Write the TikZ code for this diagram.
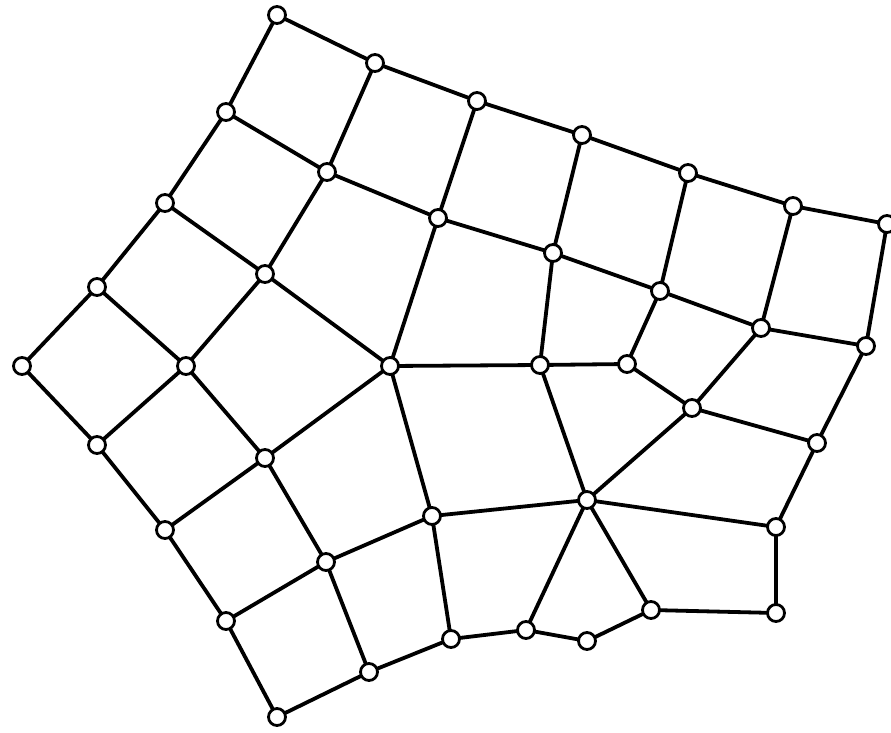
\documentclass[tikz,border=0pt]{standalone}
\begin{document}
\begin{tikzpicture}[x=1pt,y=-1pt,
  vtx/.style={circle,draw=black,fill=white,line width=2.8pt,minimum size=17pt,inner sep=0pt},
  edge/.style={draw=black,line width=3.8pt}]
\useasboundingbox (0,0) rectangle (891,733);
\begin{scope}
\clip (0,0) rectangle (891,733);
\foreach \n/\x/\y in {
 a1/277/15, a2/375/63, a3/477/101, a4/582/135, a5/688/173, a6/793/206, a7/887/224,
 b1/226/112, b2/327/172, b3/438/218, b4/553/253, b5/660/291, b6/761/328, b7/866/346,
 c1/165/203, c2/265/274, c3/390/366, c4/540/365, c5/627/364, c6/692/408, c7/817/443,
 d1/97/287, d2/186/366, d3/22/366, d4/97/445, d5/265/458, d6/165/530, d7/326/562,
 d8/226/621, d9/369/672, d10/277/717, e1/432/516, e2/451/639, e3/526/630, e4/587/641,
 e5/651/610, e6/776/613, e7/776/527, e8/587/500}
 {\coordinate (p\n) at (\x,\y);}
\foreach \u/\v in {a1/a2,a2/a3,a3/a4,a4/a5,a5/a6,a6/a7,
 a1/b1,a2/b2,a3/b3,a4/b4,a5/b5,a6/b6,a7/b7,
 b1/b2,b2/b3,b3/b4,b4/b5,b5/b6,b6/b7,
 b1/c1,b2/c2,b3/c3,b4/c4,b5/c5,b6/c6,b7/c7,
 c1/c2,c2/c3,c3/c4,c4/c5,c5/c6,c6/c7,
 c1/d1,c2/d2,d1/d2,d1/d3,d3/d4,d2/d4,d2/d5,c3/d5,d4/d6,d5/d6,d5/d7,d6/d8,d7/d8,
 d7/e1,d7/d9,d8/d10,d10/d9,d9/e2,e1/e2,c3/e1,e1/e8,c4/e8,c6/e8,e8/e7,c7/e7,e7/e6,
 e6/e5,e5/e8,e8/e3,e2/e3,e3/e4,e4/e5}
 {\draw[edge] (p\u) -- (p\v);}
\foreach \n in {a1,a2,a3,a4,a5,a6,a7,b1,b2,b3,b4,b5,b6,b7,c1,c2,c3,c4,c5,c6,c7,
 d1,d2,d3,d4,d5,d6,d7,d8,d9,d10,e1,e2,e3,e4,e5,e6,e7,e8}
 {\node[vtx] (\n) at (p\n) {};}
\end{scope}
\end{tikzpicture}
\end{document}
